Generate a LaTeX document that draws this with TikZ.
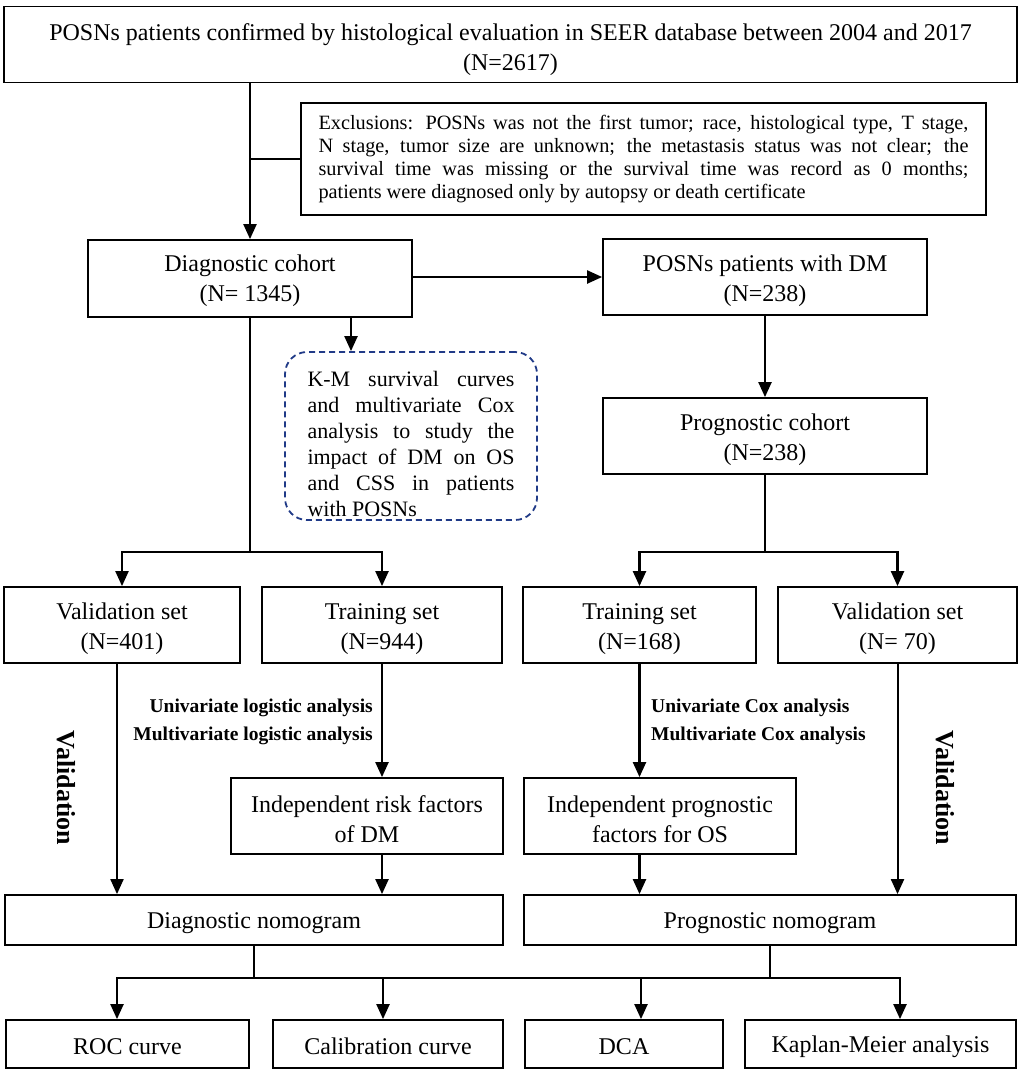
\documentclass[tikz,border=0pt]{standalone}
\usepackage{fontspec}
\setmainfont{Liberation Serif}
\usetikzlibrary{arrows.meta,calc}
\definecolor{kmblue}{RGB}{32,58,135}
\begin{document}
\begin{tikzpicture}[x=1pt,y=-1pt,
  box/.style={draw, line width=1.8pt, inner sep=0pt, align=center,
    font=\fontsize{24}{30}\selectfont, minimum height=76pt},
  boxtwo/.style={box, text height=54pt},
  boxone/.style={box, text height=22pt},
  arr/.style={line width=2.2pt, -{Triangle[length=15pt,width=13pt]}},
  ln/.style={line width=2.2pt, line cap=rect},
  thin/.style={line width=1.6pt},
  lbl/.style={font=\bfseries\fontsize{19.5}{23}\selectfont, inner sep=0pt},
  valtxt/.style={font=\bfseries\fontsize{26}{30}\selectfont, rotate=-90, inner sep=0pt}]
\useasboundingbox (0,0) rectangle (1021,1076);
\fill[white] (0,0) rectangle (1021,1076);

% boxes
\node[box, minimum width=1013pt, minimum height=76pt, text height=57pt] (top) at (510.5,44.5)
  {POSNs patients confirmed by histological evaluation in SEER database between 2004 and 2017\\(N=2617)};
\node[draw, line width=1.5pt, minimum width=685pt, minimum height=112pt, inner sep=0pt] (excl) at (643.5,159)
  {\parbox{650pt}{\fontsize{20.3}{23}\selectfont Exclusions: POSNs was not the first tumor; race, histological type, T stage,\linebreak
   N stage, tumor size are unknown; the metastasis status was not clear; the\linebreak
   survival time was missing or the survival time was record as 0 months;\linebreak
   patients were diagnosed only by autopsy or death certificate}};
\node[boxtwo, minimum width=324pt, minimum height=77pt, text height=52pt] (diag) at (250,278.5) {Diagnostic cohort\\(N= 1345)};
\node[boxtwo, minimum width=324pt] (dm) at (765,277) {POSNs patients with DM\\(N=238)};
\node[draw=kmblue, line width=1.8pt, dash pattern=on 6pt off 4pt, rounded corners=22pt,
  minimum width=252pt, minimum height=168pt, inner sep=0pt] (km) at (411,436)
  {\parbox[c][160pt][c]{207pt}{\vspace*{15pt}\fontsize{22}{26}\selectfont K-M survival curves\linebreak
   and multivariate Cox\linebreak analysis to study the\linebreak impact of DM on OS\linebreak
   and CSS in patients\linebreak with POSNs}};
\node[boxtwo, minimum width=324pt] (prog) at (765,436) {Prognostic cohort\\(N=238)};

\node[boxtwo, minimum width=236pt] (val1) at (122,625) {Validation set\\(N=401)};
\node[boxtwo, minimum width=240pt] (tr1) at (382,625) {Training set\\(N=944)};
\node[boxtwo, minimum width=233pt] (tr2) at (639.5,625) {Training set\\(N=168)};
\node[boxtwo, minimum width=239pt] (val2) at (897.5,625) {Validation set\\(N= 70)};

\node[boxtwo, minimum width=272pt] (irf) at (367,816) {Independent risk factors\\of DM};
\node[boxtwo, minimum width=272pt] (ipf) at (660,816) {Independent prognostic\\factors for OS};

\node[boxone, minimum width=498pt, minimum height=50pt] (dnom) at (254,920) {Diagnostic nomogram};
\node[boxone, minimum width=492pt, minimum height=50pt] (pnom) at (770,920) {Prognostic nomogram};

\node[boxone, minimum width=243pt, minimum height=48pt] (roc) at (127.5,1044) {ROC curve};
\node[boxone, minimum width=230pt, minimum height=48pt] (cal) at (388,1044) {Calibration curve};
\node[boxone, minimum width=198pt, minimum height=48pt] (dca) at (624,1044) {DCA};
\node[boxone, minimum width=271pt, minimum height=48pt] (kmb) at (880.5,1044) {Kaplan-Meier analysis};

% labels
\node[lbl, anchor=east] (ul) at (373,708) {Univariate logistic analysis};
\node[lbl, anchor=east] (ml) at (373,736) {Multivariate logistic analysis};
\node[lbl, anchor=west] (uc) at (651,708) {Univariate Cox analysis};
\node[lbl, anchor=west] (mc) at (651,736) {Multivariate Cox analysis};
\node[valtxt] (v1) at (66,788) {Validation};
\node[valtxt] (v2) at (945,788) {Validation};

% connectors
\draw[arr] (top.south -| diag.north) -- (diag.north);
\draw[thin] (excl.west -| diag.north) -- (excl.west);
\draw[arr] (diag.east |- dm.west) -- (dm.west);
\coordinate (kmx) at (351,0);
\draw[arr] (diag.south -| kmx) -- (km.north -| kmx);
\coordinate (s1) at (250,552);
\draw[ln] (diag.south) -- (s1);
\draw[arr] (s1) -| (val1.north);
\draw[arr] (s1) -| (tr1.north);
\draw[arr] (dm.south) -- (prog.north);
\coordinate (s2) at (765,552);
\draw[ln] (prog.south) -- (s2);
\draw[arr] (s2) -| (tr2.north);
\draw[arr] (s2) -| (val2.north);

\coordinate (lx) at (117,0);
\draw[arr, line width=2pt] (val1.south -| lx) -- (dnom.north -| lx);
\draw[arr] (tr1.south) -- (tr1.south |- irf.north);
\draw[arr] (tr1.south |- irf.south) -- (tr1.south |- dnom.north);
\draw[arr] (tr2.south) -- (tr2.south |- ipf.north);
\draw[arr] (tr2.south |- ipf.south) -- (tr2.south |- pnom.north);
\draw[arr, line width=2pt] (val2.south) -- (val2.south |- pnom.north);

\coordinate (b1) at (117,978);
\coordinate (b2) at (383,978);
\coordinate (b3) at (641,978);
\coordinate (b4) at (900,978);
\draw[ln] (dnom.south) -- (dnom.south |- b1);
\draw[ln] (pnom.south) -- (pnom.south |- b1);
\draw[ln] (b1) -- (b4);
\foreach \b/\n in {b1/roc,b2/cal,b3/dca,b4/kmb}
  \draw[arr] (\b) -- (\b |- \n.north);
\end{tikzpicture}
\end{document}
